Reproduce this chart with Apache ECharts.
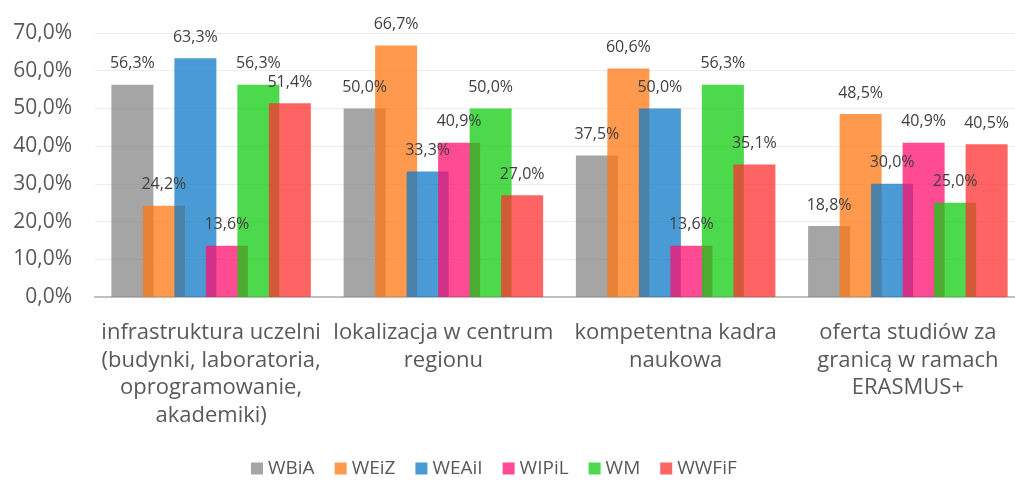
<!DOCTYPE html>
<html lang="pl">
<head>
    <meta charset="UTF-8">
    <title>Wykres</title>
    <style>
        body { margin: 0; padding: 0; background: #fff; overflow: hidden; }
        #chart { width: 1030px; height: 481px; }
    </style>
</head>
<body>
    <div id="chart"></div>
    <script src="https://cdn.jsdelivr.net/npm/echarts@6/dist/echarts.min.js"></script>
    <script>
        var categories = [
            'infrastruktura uczelni\n(budynki, laboratoria,\noprogramowanie,\nakademiki)',
            'lokalizacja w centrum\nregionu',
            'kompetentna kadra\nnaukowa',
            'oferta studiów za\ngranicą w ramach\nERASMUS+'
        ];
        var seriesNames = ['WBiA', 'WEiZ', 'WEAiI', 'WIPiL', 'WM', 'WWFiF'];
        var WBiA = [56.3, 50.0, 37.5, 18.8];
        var WEiZ = [24.2, 66.7, 60.6, 48.5];
        var WEAiI = [63.3, 33.3, 50.0, 30.0];
        var WIPiL = [13.6, 40.9, 13.6, 40.9];
        var WM = [56.3, 50.0, 56.3, 25.0];
        var WWFiF = [51.4, 27.0, 35.1, 40.5];
        var yTicks = [0, 10, 20, 30, 40, 50, 60, 70];

        // semi-transparent so overlapping bar edges get darker
        var colors = [
            'rgba(135,135,135,0.75)',
            'rgba(255,119,18,0.75)',
            'rgba(14,122,199,0.75)',
            'rgba(255,15,111,0.75)',
            'rgba(16,204,16,0.75)',
            'rgba(255,48,48,0.75)'
        ];
        var values = [WBiA, WEiZ, WEAiI, WIPiL, WM, WWFiF];

        function pct(v) {
            return v.toFixed(1).replace('.', ',') + '%';
        }

        var chart = echarts.init(document.getElementById('chart'));

        var series = seriesNames.map(function (name, i) {
            return {
                name: name,
                type: 'bar',
                data: values[i],
                barWidth: 42,
                barGap: '-25%',
                itemStyle: { color: colors[i] },
                label: {
                    show: true,
                    position: 'top',
                    distance: 13,
                    fontFamily: 'Open Sans',
                    fontSize: 16,
                    color: '#404040',
                    formatter: function (p) { return pct(p.value); }
                }
            };
        });

        var option = {
            animation: false,
            textStyle: { fontFamily: 'Open Sans' },
            grid: {
                left: 95,
                width: 929,
                top: 33,
                bottom: 184
            },
            legend: {
                data: seriesNames,
                left: 246,
                top: 454,
                itemWidth: 12,
                itemHeight: 12,
                itemGap: 20,
                icon: 'rect',
                textStyle: { fontSize: 19, color: '#595959', fontFamily: 'Open Sans' }
            },
            xAxis: {
                type: 'category',
                data: categories,
                axisTick: { show: false },
                axisLine: { lineStyle: { color: '#bfbfbf', width: 2 } },
                axisLabel: {
                    interval: 0,
                    margin: 22,
                    fontSize: 22,
                    lineHeight: 27.5,
                    color: '#595959',
                    fontFamily: 'Open Sans'
                }
            },
            yAxis: {
                type: 'value',
                min: yTicks[0],
                max: yTicks[yTicks.length - 1],
                interval: 10,
                axisLine: { show: false },
                axisTick: { show: false },
                splitLine: { lineStyle: { color: '#ececec', width: 1 } },
                axisLabel: {
                    margin: 23,
                    fontSize: 21,
                    color: '#595959',
                    fontFamily: 'Open Sans',
                    formatter: function (v) { return pct(v); }
                }
            },
            series: series
        };

        chart.setOption(option);
    </script>
</body>
</html>
